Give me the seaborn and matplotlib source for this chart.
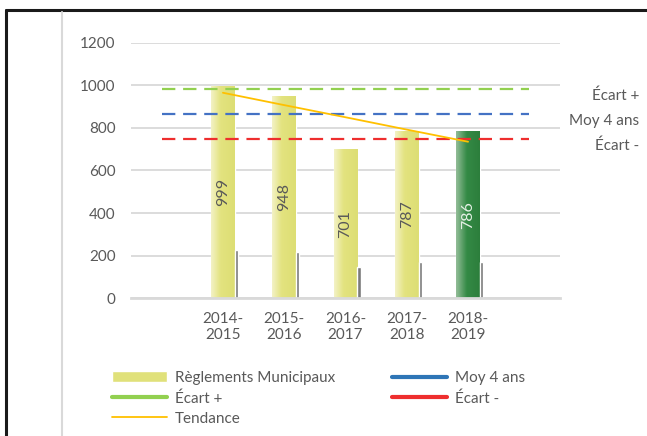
import numpy as np
import pandas as pd
import matplotlib
matplotlib.use("Agg")
import matplotlib.pyplot as plt
import seaborn as sns
from matplotlib.colors import LinearSegmentedColormap
from matplotlib.lines import Line2D
from matplotlib.patches import Patch

# data
saisons = ["2014-\n2015", "2015-\n2016", "2016-\n2017", "2017-\n2018", "2018-\n2019"]
reglements = [999, 948, 701, 787, 786]
petites_barres = [226, 216, 147, 169, 169]
tendance = [965, 907, 850, 792, 735]
moy_4_ans = 864
ecart_plus = 982
ecart_moins = 746
y_ticks = [0, 200, 400, 600, 800, 1000, 1200]

# one blank slot before and after the seasons
categories = [""] + saisons + [" "]
df = pd.DataFrame({"saison": saisons, "valeur": reglements})

sns.set_theme(style="white")
plt.rcParams["font.family"] = ["Lato", "DejaVu Sans"]
texte = "#595959"
fs = 11

fig = plt.figure(figsize=(6.47, 4.36), dpi=100)
ax = fig.add_axes([131 / 647, 1 - 298.3 / 436, 429 / 647, 255.6 / 436])

sns.barplot(data=df, x="saison", y="valeur", order=categories, width=0.39,
            color="#E0E17A", saturation=1, ax=ax, zorder=2)

# gradient fill on the bars
jaune = LinearSegmentedColormap.from_list(
    "jaune", [(0, "#F3F2C6"), (0.4, "#E3E37F"), (1, "#DDDE74")])
vert = LinearSegmentedColormap.from_list(
    "vert", [(0, "#93BD98"), (0.45, "#348A45"), (1, "#2C7E3C")])
grad = np.linspace(0, 1, 64).reshape(1, -1)
bars = list(ax.patches)
for i, p in enumerate(bars):
    cmap = vert if i == len(bars) - 1 else jaune
    x0, w, h = p.get_x(), p.get_width(), p.get_height()
    im = ax.imshow(grad, extent=[x0, x0 + w, 0, h], aspect="auto", cmap=cmap,
                   interpolation="bicubic", zorder=2.1)
    im.set_clip_path(p)

# thin grey bars on the right of each bar
pos = np.arange(1, len(saisons) + 1)
ax.bar(pos + 0.195, petites_barres, width=0.05, align="edge",
       color="#7A7A7A", zorder=2.2)

# values inside the bars
for i, v in enumerate(reglements):
    c = "#E6F0E6" if i == len(reglements) - 1 else texte
    ax.text(pos[i], v / 2, str(v), rotation=90, ha="center", va="center",
            fontsize=fs + 0.5, color=c, zorder=3)

xs = np.arange(len(categories))
sns.lineplot(x=xs, y=[ecart_plus] * len(xs), color="#92D050", lw=1.6,
             dashes=(6, 3.5), ax=ax, zorder=4)
sns.lineplot(x=xs, y=[moy_4_ans] * len(xs), color="#4472C4", lw=1.6,
             dashes=(6, 3.5), ax=ax, zorder=4)
sns.lineplot(x=xs, y=[ecart_moins] * len(xs), color="#EE2E2E", lw=1.6,
             dashes=(6, 3.5), ax=ax, zorder=4)
sns.lineplot(x=pos, y=tendance, color="#FFC000", lw=1.3, ax=ax, zorder=5)

for lab, val in [("Écart +", ecart_plus), ("Moy 4 ans", moy_4_ans), ("Écart -", ecart_moins)]:
    ax.annotate(lab, xy=(xs[-1], val), xytext=(79, -4.5), textcoords="offset points",
                ha="right", va="center", fontsize=fs, color=texte,
                annotation_clip=False)

ax.set_xlim(-0.5, len(categories) - 0.5)
ax.set_ylim(0, 1200)
ax.set_yticks(y_ticks)
ax.set_xlabel("")
ax.set_ylabel("")
ax.yaxis.grid(True, color="#D9D9D9", lw=1.3)
ax.set_axisbelow(True)
for s in ["top", "right", "left"]:
    ax.spines[s].set_visible(False)
ax.spines["bottom"].set_color("#D9D9D9")
ax.spines["bottom"].set_linewidth(2)
ax.tick_params(axis="both", length=0, labelsize=fs, labelcolor=texte)
ax.tick_params(axis="y", pad=11)
ax.tick_params(axis="x", pad=10)

handles = [
    Patch(facecolor="#E0E17A"),
    Line2D([], [], color="#92D050", lw=3),
    Line2D([], [], color="#FFC000", lw=1.3),
    Line2D([], [], color="#2E75B6", lw=3),
    Line2D([], [], color="#EE2E2E", lw=3),
]
labels = ["Règlements Municipaux", "Écart +", "Tendance", "Moy 4 ans", "Écart -"]
fig.legend(handles, labels, loc="upper left", bbox_to_anchor=(112 / 647, 1 - 371 / 436),
           ncol=2, frameon=False, fontsize=fs, labelcolor=texte,
           handlelength=3.6, handletextpad=0.5, columnspacing=3.75,
           labelspacing=0.4, borderpad=0, borderaxespad=0)

# frame pieces around the chart
fig.add_artist(Line2D([6 / 647, 6 / 647], [0, 1 - 10 / 436], transform=fig.transFigure,
                      color="#1A1A1A", lw=2.2))
fig.add_artist(Line2D([6 / 647, 1], [1 - 10 / 436, 1 - 10 / 436], transform=fig.transFigure,
                      color="#1A1A1A", lw=2.2))
fig.add_artist(Line2D([62 / 647, 62 / 647], [0, 1 - 12 / 436], transform=fig.transFigure,
                      color="#D9D9D9", lw=1.5))

fig.savefig("out.png", dpi=100)
